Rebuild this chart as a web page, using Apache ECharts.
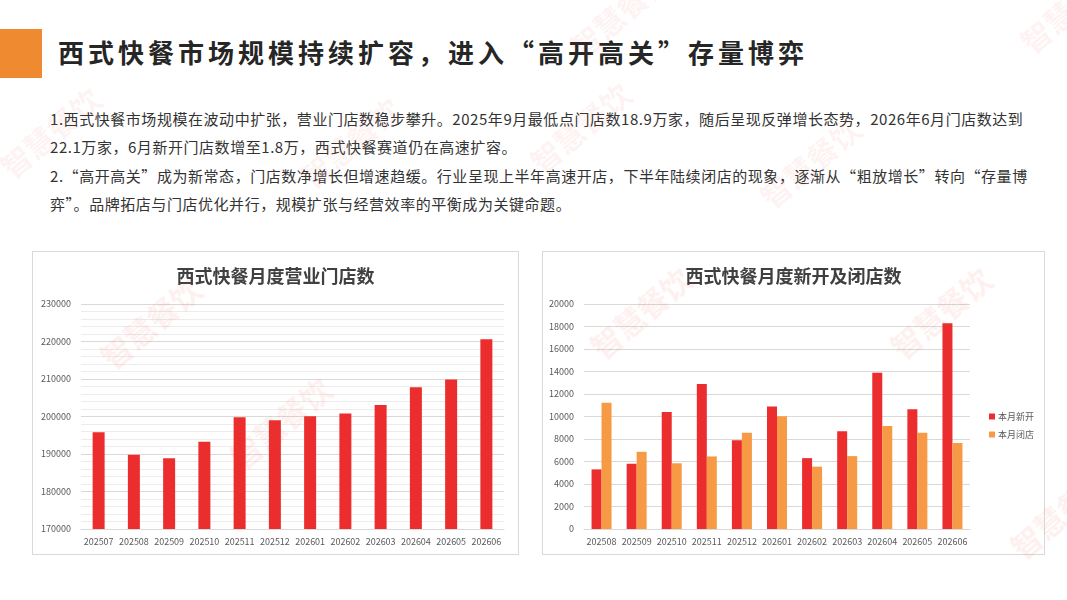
<!DOCTYPE html>
<html>
<head>
<meta charset="utf-8">
<script src="https://cdn.jsdelivr.net/npm/echarts@6/dist/echarts.min.js"></script>
<style>
  html, body { margin: 0; padding: 0; background: #fff; }
  body { width: 1067px; height: 600px; position: relative; overflow: hidden;
         font-family: "Noto Sans CJK SC", "Noto Sans", sans-serif; }
  .bar { position: absolute; left: 0; top: 29px; width: 42px; height: 49px; background: #f08a30; }
  .title { position: absolute; left: 58px; top: 33px; font-size: 26px; font-weight: bold;
           color: #262626; letter-spacing: 4px; white-space: nowrap; }
  .text { position: absolute; left: 50px; top: 105px; font-size: 15px; line-height: 28.3px;
          color: #333; letter-spacing: 0.55px; white-space: nowrap; }
  .box { position: absolute; top: 251px; height: 304px; border: 1px solid #d9d9d9; box-sizing: border-box; }
  #c1 { left: 32px; width: 487px; }
  #c2 { left: 542px; width: 503px; }
  .wm { position: absolute; color: rgba(232, 70, 50, 0.08); font-weight: bold; font-size: 30px;
        transform: rotate(-40deg); pointer-events: none; white-space: nowrap; z-index: 5; }
</style>
</head>
<body>
<div class="bar"></div>
<div class="title">西式快餐市场规模持续扩容，进入“高开高关”存量博弈</div>
<div class="text">
1.西式快餐市场规模在波动中扩张，营业门店数稳步攀升。2025年9月最低点门店数18.9万家，随后呈现反弹增长态势，2026年6月门店数达到<br>
22.1万家，6月新开门店数增至1.8万，西式快餐赛道仍在高速扩容。<br>
2.“高开高关”成为新常态，门店数净增长但增速趋缓。行业呈现上半年高速开店，下半年陆续闭店的现象，逐渐从“粗放增长”转向“存量博<br>
弈”。品牌拓店与门店优化并行，规模扩张与经营效率的平衡成为关键命题。
</div>
<div id="c1" class="box"></div>
<div id="c2" class="box"></div>

<div class="wm" style="left:560px;top:-10px;">智慧餐饮</div>
<div class="wm" style="left:1010px;top:-15px;">智慧餐饮</div>
<div class="wm" style="left:-10px;top:110px;">智慧餐饮</div>
<div class="wm" style="left:290px;top:120px;">智慧餐饮</div>
<div class="wm" style="left:520px;top:105px;">智慧餐饮</div>
<div class="wm" style="left:750px;top:140px;">智慧餐饮</div>
<div class="wm" style="left:90px;top:300px;">智慧餐饮</div>
<div class="wm" style="left:220px;top:400px;">智慧餐饮</div>
<div class="wm" style="left:880px;top:290px;">智慧餐饮</div>
<div class="wm" style="left:580px;top:290px;">智慧餐饮</div>
<div class="wm" style="left:1000px;top:490px;">智慧餐饮</div>

<script>
// 营业门店数
const months1 = ['202507','202508','202509','202510','202511','202512','202601','202602','202603','202604','202605','202606'];
const storeCount = [195800, 189800, 188900, 193300, 199800, 199000, 200100, 200800, 203100, 207800, 209900, 220600];

// 新开 / 闭店
const months2 = ['202508','202509','202510','202511','202512','202601','202602','202603','202604','202605','202606'];
const openCount = [5300, 5800, 10400, 12900, 7900, 10900, 6300, 8700, 13900, 10650, 18300];
const closeCount = [11230, 6860, 5840, 6450, 8560, 10030, 5540, 6480, 9150, 8560, 7650];

const RED = '#eb2e2d';
const ORANGE = '#f69a45';
const font = '"Noto Sans CJK SC", "Noto Sans", sans-serif';

const titleStyle = { fontSize: 18, fontWeight: 'bold', color: '#404040', fontFamily: font };
const labelStyle = { fontSize: 9, color: '#595959', fontFamily: font };
const plain = function(v) { return String(v); };

let chart1 = echarts.init(document.getElementById('c1'));
chart1.setOption({
  animation: false,
  title: { text: '西式快餐月度营业门店数', left: 'center', top: 10, textStyle: titleStyle },
  grid: { left: 48, right: 14, top: 52, bottom: 25 },
  xAxis: {
    type: 'category',
    data: months1,
    axisTick: { show: false },
    axisLine: { lineStyle: { color: '#d9d9d9' } },
    axisLabel: Object.assign({ interval: 0, margin: 8 }, labelStyle)
  },
  yAxis: {
    type: 'value',
    min: 170000,
    max: 230000,
    interval: 10000,
    axisLabel: Object.assign({ margin: 10, formatter: plain }, labelStyle),
    splitLine: { lineStyle: { color: '#d9d9d9' } },
    minorTick: { show: false, splitNumber: 5 },
    minorSplitLine: { show: true, lineStyle: { color: '#ececec' } }
  },
  series: [{
    type: 'bar',
    data: storeCount,
    barWidth: 12,
    itemStyle: { color: RED }
  }]
});

let chart2 = echarts.init(document.getElementById('c2'));
chart2.setOption({
  animation: false,
  title: { text: '西式快餐月度新开及闭店数', left: 'center', top: 10, textStyle: titleStyle },
  legend: {
    orient: 'vertical',
    left: 441,
    top: 155,
    itemWidth: 6,
    itemHeight: 6,
    itemGap: 9,
    icon: 'rect',
    textStyle: { fontSize: 9, color: '#595959', fontFamily: font, padding: [0, 0, 0, -2] },
    data: ['本月新开', '本月闭店']
  },
  grid: { left: 41, right: 74, top: 52, bottom: 25 },
  xAxis: {
    type: 'category',
    data: months2,
    axisTick: { show: false },
    axisLine: { lineStyle: { color: '#d9d9d9' } },
    axisLabel: Object.assign({ interval: 0, margin: 8 }, labelStyle)
  },
  yAxis: {
    type: 'value',
    min: 0,
    max: 20000,
    interval: 2000,
    axisLabel: Object.assign({ margin: 10, formatter: plain }, labelStyle),
    splitLine: { lineStyle: { color: '#d9d9d9' } }
  },
  series: [{
    name: '本月新开',
    type: 'bar',
    data: openCount,
    barWidth: 10,
    barGap: '0%',
    itemStyle: { color: RED }
  }, {
    name: '本月闭店',
    type: 'bar',
    data: closeCount,
    barWidth: 10,
    itemStyle: { color: ORANGE }
  }]
});
</script>
</body>
</html>
